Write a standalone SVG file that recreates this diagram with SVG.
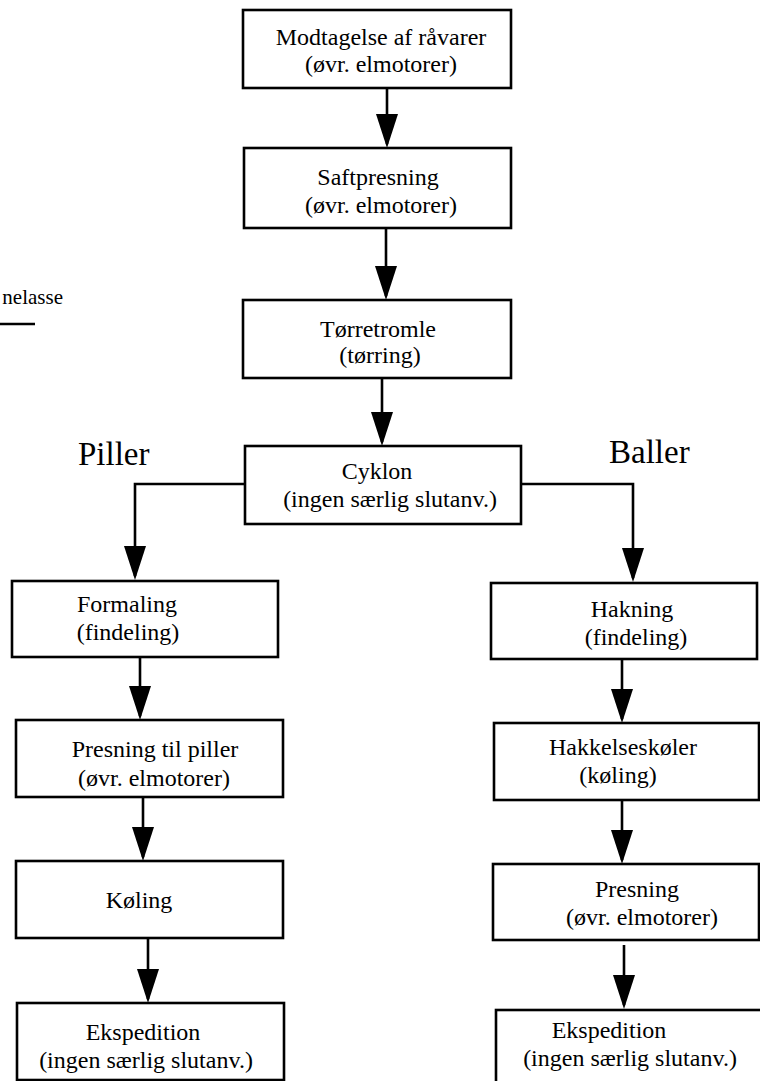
<svg xmlns="http://www.w3.org/2000/svg" width="760" height="1081" viewBox="0 0 760 1081">
  <style>
    .box { fill: #ffffff; stroke: #000000; stroke-width: 2.6; }
    .lbl { font-family: "Liberation Serif", "Times New Roman", serif; font-size: 24px; fill: #000000; text-anchor: middle; }
    .branch { font-family: "Liberation Serif", "Times New Roman", serif; font-size: 33px; fill: #000000; }
    .edge { fill: none; stroke: #000000; stroke-width: 2.6; marker-end: url(#head); }
  </style>
  <defs>
    <marker id="head" markerUnits="userSpaceOnUse" viewBox="0 0 34 22" refX="30" refY="11" markerWidth="34" markerHeight="22" orient="auto">
      <path d="M0,0 L34,11 L0,22 Z" fill="#000000"/>
    </marker>
  </defs>

  <rect width="760" height="1081" fill="#ffffff"/>

  <!-- partial legend at the left edge -->
  <g id="legend">
    <text x="63" y="304" font-family="Liberation Serif, Times New Roman, serif" font-size="21" text-anchor="end">nelasse</text>
    <line x1="0" y1="324" x2="35" y2="324" stroke="#000000" stroke-width="2.6"/>
  </g>

  <!-- branch titles -->
  <text id="title-piller" class="branch" x="78" y="465">Piller</text>
  <text id="title-baller" class="branch" x="609" y="463">Baller</text>

  <!-- connectors -->
  <g id="connectors">
    <path class="edge" d="M387,88 V144"/>
    <path class="edge" d="M386,228 V296"/>
    <path class="edge" d="M382,378 V442"/>
    <path class="edge" d="M245,484 H135 V576"/>
    <path class="edge" d="M521,484 H633 V578"/>
    <path class="edge" d="M140,657 V716"/>
    <path class="edge" d="M143,797 V857"/>
    <path class="edge" d="M148,938 V999"/>
    <path class="edge" d="M622,656 V719"/>
    <path class="edge" d="M622,800 V860"/>
    <path class="edge" d="M624,945 V1005"/>
  </g>

  <!-- main line -->
  <g id="modtagelse">
    <rect class="box" x="243" y="10" width="268" height="78"/>
    <text class="lbl" x="381" y="45">Modtagelse af råvarer</text>
    <text class="lbl" x="381" y="72">(øvr. elmotorer)</text>
  </g>
  <g id="saftpresning">
    <rect class="box" x="244" y="148" width="267" height="80"/>
    <text class="lbl" x="378" y="185">Saftpresning</text>
    <text class="lbl" x="381" y="213">(øvr. elmotorer)</text>
  </g>
  <g id="toerretromle">
    <rect class="box" x="243" y="300" width="268" height="78"/>
    <text class="lbl" x="378" y="337">Tørretromle</text>
    <text class="lbl" x="380" y="363">(tørring)</text>
  </g>
  <g id="cyklon">
    <rect class="box" x="245" y="446" width="276" height="78"/>
    <text class="lbl" x="377" y="479">Cyklon</text>
    <text class="lbl" x="390" y="507">(ingen særlig slutanv.)</text>
  </g>

  <!-- pellet branch -->
  <g id="formaling">
    <rect class="box" x="12" y="581" width="266" height="76"/>
    <text class="lbl" x="127" y="612">Formaling</text>
    <text class="lbl" x="128" y="640">(findeling)</text>
  </g>
  <g id="presning-piller">
    <rect class="box" x="16" y="720" width="267" height="77"/>
    <text class="lbl" x="155" y="757">Presning til piller</text>
    <text class="lbl" x="154" y="786">(øvr. elmotorer)</text>
  </g>
  <g id="koeling">
    <rect class="box" x="16" y="861" width="267" height="77"/>
    <text class="lbl" x="139" y="908">Køling</text>
  </g>
  <g id="ekspedition-piller">
    <rect class="box" x="17" y="1003" width="267" height="77"/>
    <text class="lbl" x="143" y="1040">Ekspedition</text>
    <text class="lbl" x="146" y="1068">(ingen særlig slutanv.)</text>
  </g>

  <!-- bale branch -->
  <g id="hakning">
    <rect class="box" x="491" y="583" width="266" height="76"/>
    <text class="lbl" x="632" y="617">Hakning</text>
    <text class="lbl" x="636" y="645">(findeling)</text>
  </g>
  <g id="hakkelseskoeler">
    <rect class="box" x="494" y="723" width="265" height="77"/>
    <text class="lbl" x="623" y="755">Hakkelseskøler</text>
    <text class="lbl" x="618" y="783">(køling)</text>
  </g>
  <g id="presning-baller">
    <rect class="box" x="493" y="864" width="266" height="76"/>
    <text class="lbl" x="637" y="897">Presning</text>
    <text class="lbl" x="642" y="925">(øvr. elmotorer)</text>
  </g>
  <g id="ekspedition-baller">
    <rect class="box" x="496" y="1010" width="270" height="80"/>
    <text class="lbl" x="609" y="1038">Ekspedition</text>
    <text class="lbl" x="630" y="1066">(ingen særlig slutanv.)</text>
  </g>
</svg>
